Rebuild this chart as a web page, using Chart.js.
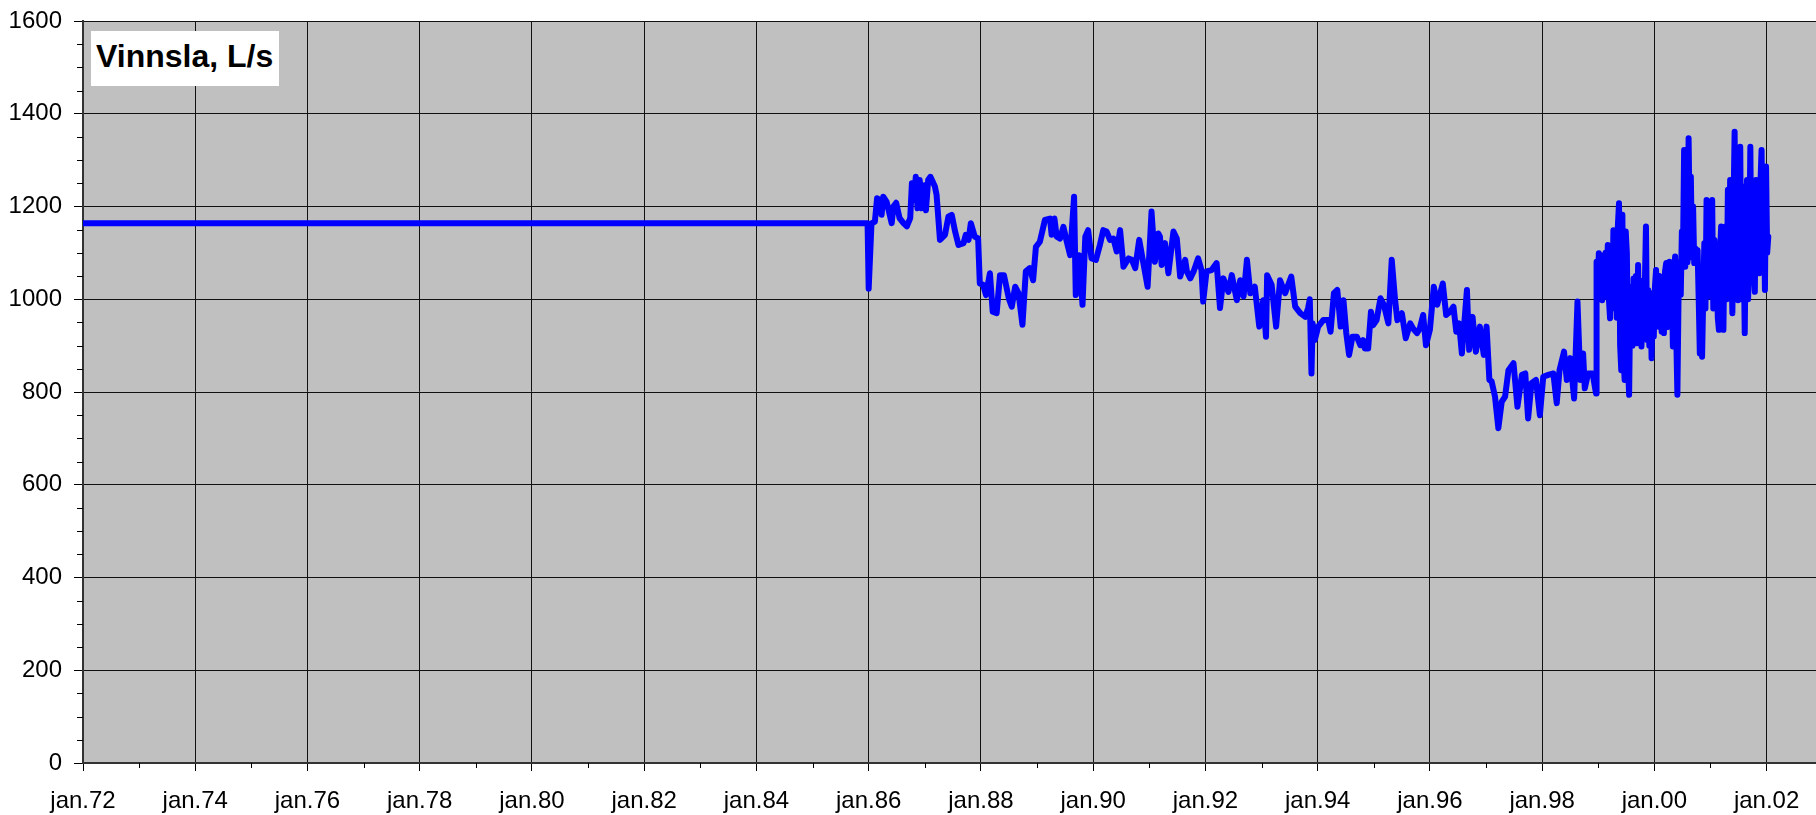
<!DOCTYPE html>
<html>
<head>
<meta charset="utf-8">
<title>Vinnsla, L/s</title>
<script src="https://cdn.jsdelivr.net/npm/chart.js@4.4.1/dist/chart.umd.min.js"></script>
<style>
    html, body { margin: 0; padding: 0; background: #fff; }
    #wrap { position: relative; width: 1816px; height: 815px; }
    #title {
        position: absolute; left: 91px; top: 31px; width: 188px; height: 55px;
        box-sizing: border-box; padding-left: 5px; background: #fff; color: #000;
        font: bold 32px/50px "Liberation Sans", Arial, sans-serif; white-space: nowrap;
    }
</style>
</head>
<body>
<div id="wrap">
    <canvas id="flowChart" width="1816" height="815"></canvas>
    <div id="title">Vinnsla, L/s</div>
</div>
<script>
// Dates as decimal years, flow in L/s
// 1972 - 1998: roughly monthly readings
const years = [
    1972.00, 1985.98, 1986.00, 1986.05, 1986.11, 1986.15, 1986.20, 1986.23, 1986.26, 1986.32,
    1986.41, 1986.44, 1986.49, 1986.55, 1986.62, 1986.68, 1986.74, 1986.77, 1986.80, 1986.84,
    1986.87, 1986.91, 1986.94, 1986.99, 1987.02, 1987.06, 1987.10, 1987.18, 1987.21, 1987.27,
    1987.36, 1987.42, 1987.48, 1987.54, 1987.60, 1987.69, 1987.73, 1987.78, 1987.82, 1987.89,
    1987.95, 1987.98, 1988.04, 1988.09, 1988.16, 1988.21, 1988.28, 1988.34, 1988.41, 1988.50,
    1988.55, 1988.61, 1988.67, 1988.74, 1988.80, 1988.87, 1988.93, 1988.98, 1989.05, 1989.14,
    1989.23, 1989.26, 1989.31, 1989.35, 1989.41, 1989.47, 1989.53, 1989.59, 1989.66, 1989.69,
    1989.75, 1989.81, 1989.86, 1989.91, 1989.97, 1990.05, 1990.12, 1990.18, 1990.24, 1990.30,
    1990.36, 1990.42, 1990.48, 1990.54, 1990.63, 1990.69, 1990.75, 1990.82, 1990.89, 1990.97,
    1991.04, 1991.10, 1991.16, 1991.19, 1991.22, 1991.28, 1991.34, 1991.43, 1991.49, 1991.55,
    1991.64, 1991.67, 1991.73, 1991.79, 1991.87, 1991.93, 1991.96, 1992.02, 1992.11, 1992.20,
    1992.26, 1992.32, 1992.41, 1992.47, 1992.56, 1992.62, 1992.68, 1992.74, 1992.80, 1992.88,
    1992.96, 1993.03, 1993.08, 1993.10, 1993.18, 1993.26, 1993.33, 1993.42, 1993.53, 1993.60,
    1993.69, 1993.78, 1993.83, 1993.86, 1993.89, 1993.91, 1993.95, 1994.01, 1994.10, 1994.19,
    1994.23, 1994.29, 1994.35, 1994.41, 1994.46, 1994.51, 1994.56, 1994.62, 1994.70, 1994.76,
    1994.81, 1994.84, 1994.90, 1994.95, 1994.99, 1995.05, 1995.12, 1995.18, 1995.26, 1995.32,
    1995.38, 1995.42, 1995.50, 1995.57, 1995.65, 1995.70, 1995.77, 1995.82, 1995.88, 1995.93,
    1996.00, 1996.07, 1996.13, 1996.23, 1996.29, 1996.36, 1996.42, 1996.47, 1996.52, 1996.57,
    1996.66, 1996.70, 1996.76, 1996.82, 1996.89, 1996.96, 1997.01, 1997.06, 1997.10, 1997.16,
    1997.22, 1997.28, 1997.34, 1997.40, 1997.49, 1997.56, 1997.64, 1997.70, 1997.75, 1997.81,
    1997.89, 1997.96, 1998.02, 1998.11, 1998.20, 1998.26, 1998.31, 1998.39, 1998.44, 1998.50,
    1998.57, 1998.63, 1998.68, 1998.73, 1998.76, 1998.82, 1998.90, 1998.96
];
const flow = [
    1164, 1164, 1023, 1164, 1167, 1218, 1214, 1182, 1221, 1210,
    1164, 1200, 1208, 1175, 1164, 1157, 1175, 1250, 1214, 1264,
    1196, 1257, 1196, 1246, 1192, 1257, 1264, 1243, 1225, 1128,
    1139, 1178, 1182, 1146, 1117, 1121, 1139, 1128, 1164, 1135,
    1131, 1034, 1031, 1009, 1056, 973, 970, 1052, 1052, 1000,
    984, 1027, 1013, 945, 1060, 1067, 1041, 1113, 1124, 1171,
    1174, 1139, 1174, 1135, 1131, 1156, 1124, 1095, 1221, 1009,
    1095, 988, 1135, 1149, 1088, 1085, 1117, 1149, 1146, 1128,
    1131, 1103, 1149, 1070, 1088, 1085, 1067, 1128, 1081, 1027,
    1189, 1081, 1142, 1135, 1074, 1121, 1056, 1146, 1131, 1049,
    1085, 1060, 1045, 1060, 1088, 1063, 995, 1060, 1063, 1078,
    981, 1045, 1016, 1052, 998, 1041, 1006, 1085, 1013, 1027,
    941, 998, 919, 1052, 1031, 941, 1041, 1013, 1049, 984,
    970, 962, 981, 1000, 840, 948, 912, 941, 955, 955,
    930, 1013, 1020, 941, 998, 927, 880, 919, 919, 901,
    912, 894, 894, 973, 944, 955, 1002, 988, 948, 1085,
    998, 955, 970, 916, 948, 937, 927, 937, 966, 901,
    934, 1027, 988, 1034, 966, 973, 984, 930, 948, 883,
    1020, 891, 962, 887, 941, 880, 941, 826, 823, 790,
    722, 779, 790, 847, 862, 768, 837, 840, 743, 819,
    826, 750, 833, 837, 840, 776, 847, 887, 826, 873,
    786, 995, 826, 883, 808, 840, 840, 797
];
// 1999 - 2002: much denser readings, the line swings a lot
const years99 = [
    1998.97, 1998.99, 1999.01, 1999.03, 1999.05, 1999.07, 1999.09, 1999.11, 1999.13, 1999.15,
    1999.17, 1999.19, 1999.21, 1999.23, 1999.25, 1999.27, 1999.29, 1999.31, 1999.33, 1999.35,
    1999.37, 1999.39, 1999.41, 1999.43, 1999.45, 1999.47, 1999.49, 1999.51, 1999.53, 1999.55,
    1999.57, 1999.59, 1999.61, 1999.63, 1999.65, 1999.67, 1999.69, 1999.71, 1999.73, 1999.75,
    1999.77, 1999.79, 1999.81, 1999.83, 1999.85, 1999.87, 1999.89, 1999.91, 1999.93, 1999.95,
    1999.97, 1999.99, 2000.01, 2000.03, 2000.05, 2000.07, 2000.09, 2000.11, 2000.13, 2000.15,
    2000.17, 2000.19, 2000.21, 2000.23, 2000.25, 2000.27, 2000.29, 2000.31, 2000.33, 2000.35,
    2000.37, 2000.39, 2000.41, 2000.43, 2000.45, 2000.47, 2000.49, 2000.51, 2000.53, 2000.55,
    2000.57, 2000.59, 2000.61, 2000.63, 2000.65, 2000.67, 2000.69, 2000.71, 2000.73, 2000.75,
    2000.77, 2000.79, 2000.81, 2000.83, 2000.85, 2000.87, 2000.89, 2000.91, 2000.93, 2000.95,
    2000.97, 2000.99, 2001.01, 2001.03, 2001.05, 2001.07, 2001.09, 2001.11, 2001.13, 2001.15,
    2001.17, 2001.19, 2001.21, 2001.23, 2001.25, 2001.27, 2001.29, 2001.31, 2001.33, 2001.35,
    2001.37, 2001.39, 2001.41, 2001.43, 2001.45, 2001.47, 2001.49, 2001.51, 2001.53, 2001.55,
    2001.57, 2001.59, 2001.61, 2001.63, 2001.65, 2001.67, 2001.69, 2001.71, 2001.73, 2001.75,
    2001.77, 2001.79, 2001.81, 2001.83, 2001.85, 2001.87, 2001.89, 2001.91, 2001.93, 2001.95,
    2001.97, 2001.99, 2002.01, 2002.03
];
const flow99 = [
    1081, 1000, 1099, 1010, 1095, 998, 1092, 1005, 1100, 1020,
    1117, 1000, 959, 1090, 980, 1149, 1006, 1120, 960, 1160,
    1207, 900, 847, 1182, 880, 826, 1146, 1100, 860, 794,
    1000, 1027, 900, 1045, 920, 1050, 905, 1074, 930, 1040,
    898, 1000, 920, 1027, 1157, 912, 1020, 900, 1013, 873,
    1000, 920, 1027, 1063, 960, 941, 1050, 991, 930, 1040,
    927, 1060, 1078, 940, 998, 1081, 950, 1070, 898, 1060,
    1092, 920, 794, 1000, 1080, 1010, 1146, 1100, 1322, 1070,
    1200, 1080, 1347, 1150, 1264, 1090, 1200, 1078, 1110, 1085,
    1106, 1000, 883, 940, 876, 1000, 1121, 980, 1214, 1050,
    1150, 1006, 1100, 1214, 980, 1128, 1000, 1085, 960, 934,
    1100, 1157, 980, 934, 1120, 1157, 1000, 1236, 1020, 1257,
    1100, 970, 1200, 1361, 1050, 1257, 998, 1200, 1329, 1000,
    1243, 1121, 927, 1150, 1257, 1000, 1092, 1329, 1050, 1200,
    1070, 1016, 1257, 1100, 1193, 1056, 1250, 1322, 1100, 1214,
    1020, 1286, 1100, 1135
];
const xTickLabels = [
    'jan.72', 'jan.74', 'jan.76', 'jan.78', 'jan.80', 'jan.82', 'jan.84', 'jan.86',
    'jan.88', 'jan.90', 'jan.92', 'jan.94', 'jan.96', 'jan.98', 'jan.00', 'jan.02'
];
const xStart = 1972;
const xEnd = 2002.88;
const yMax = 1600;

const tickFont = { family: '"Liberation Sans", Arial, sans-serif', size: 24 };

// grey plot background like the spreadsheet chart
const plotBackground = {
    id: 'plotBackground',
    beforeDraw(chart) {
        const { ctx, chartArea: a } = chart;
        ctx.save();
        ctx.fillStyle = '#c0c0c0';
        ctx.fillRect(a.left, a.top, a.right - a.left, a.bottom - a.top);
        ctx.restore();
    }
};

// short minor tick marks (every 50 L/s and every odd year)
const minorTicks = {
    id: 'minorTicks',
    afterDraw(chart) {
        const { ctx, scales: { x, y } } = chart;
        ctx.save();
        ctx.strokeStyle = '#000';
        ctx.lineWidth = 1;
        ctx.beginPath();
        for (let v = 50; v < yMax; v += 50) {
            if (v % 200 === 0) continue;
            const py = Math.round(y.getPixelForValue(v)) + 0.5;
            ctx.moveTo(y.right - 6, py);
            ctx.lineTo(y.right, py);
        }
        for (let yr = xStart + 1; yr < xEnd; yr += 2) {
            const px = Math.round(x.getPixelForValue(yr)) + 0.5;
            ctx.moveTo(px, x.top);
            ctx.lineTo(px, x.top + 5);
        }
        ctx.stroke();
        ctx.restore();
    }
};

const allYears = years.concat(years99);
const allFlow = flow.concat(flow99);

new Chart(document.getElementById('flowChart'), {
    type: 'line',
    data: {
        datasets: [{
            label: 'Vinnsla, L/s',
            data: allYears.map((yr, i) => ({ x: yr, y: allFlow[i] })),
            borderColor: '#0000ff',
            borderWidth: 6,
            pointRadius: 0,
            tension: 0,
            borderJoinStyle: 'round',
            borderCapStyle: 'round',
            fill: false
        }]
    },
    options: {
        responsive: false,
        animation: false,
        devicePixelRatio: 1,
        layout: { padding: { top: 21, right: 0, bottom: 0, left: 0 } },
        plugins: {
            legend: { display: false },
            tooltip: { enabled: false }
        },
        scales: {
            x: {
                type: 'linear',
                min: xStart,
                max: xEnd,
                afterFit: function(scale) { scale.height = 52; },
                ticks: {
                    stepSize: 2,
                    includeBounds: false,
                    autoSkip: false,
                    maxRotation: 0,
                    padding: 16,
                    color: '#000',
                    font: tickFont,
                    callback: function(value) {
                        return xTickLabels[Math.round((value - xStart) / 2)];
                    }
                },
                grid: { color: '#111', lineWidth: 1, tickLength: 8, tickColor: '#000' },
                border: { color: '#333', width: 2 }
            },
            y: {
                min: 0,
                max: yMax,
                afterFit: function(scale) {
                    scale.width = 83;
                    // the tick padding is otherwise added above the top label
                    scale.paddingTop = 0;
                    scale.paddingBottom = 0;
                },
                ticks: {
                    stepSize: 200,
                    padding: 12,
                    color: '#000',
                    font: tickFont,
                    callback: function(value) { return String(value); }
                },
                grid: { color: '#111', lineWidth: 1, tickLength: 9, tickColor: '#000' },
                border: { color: '#333', width: 2 }
            }
        }
    },
    plugins: [plotBackground, minorTicks]
});
</script>
</body>
</html>
